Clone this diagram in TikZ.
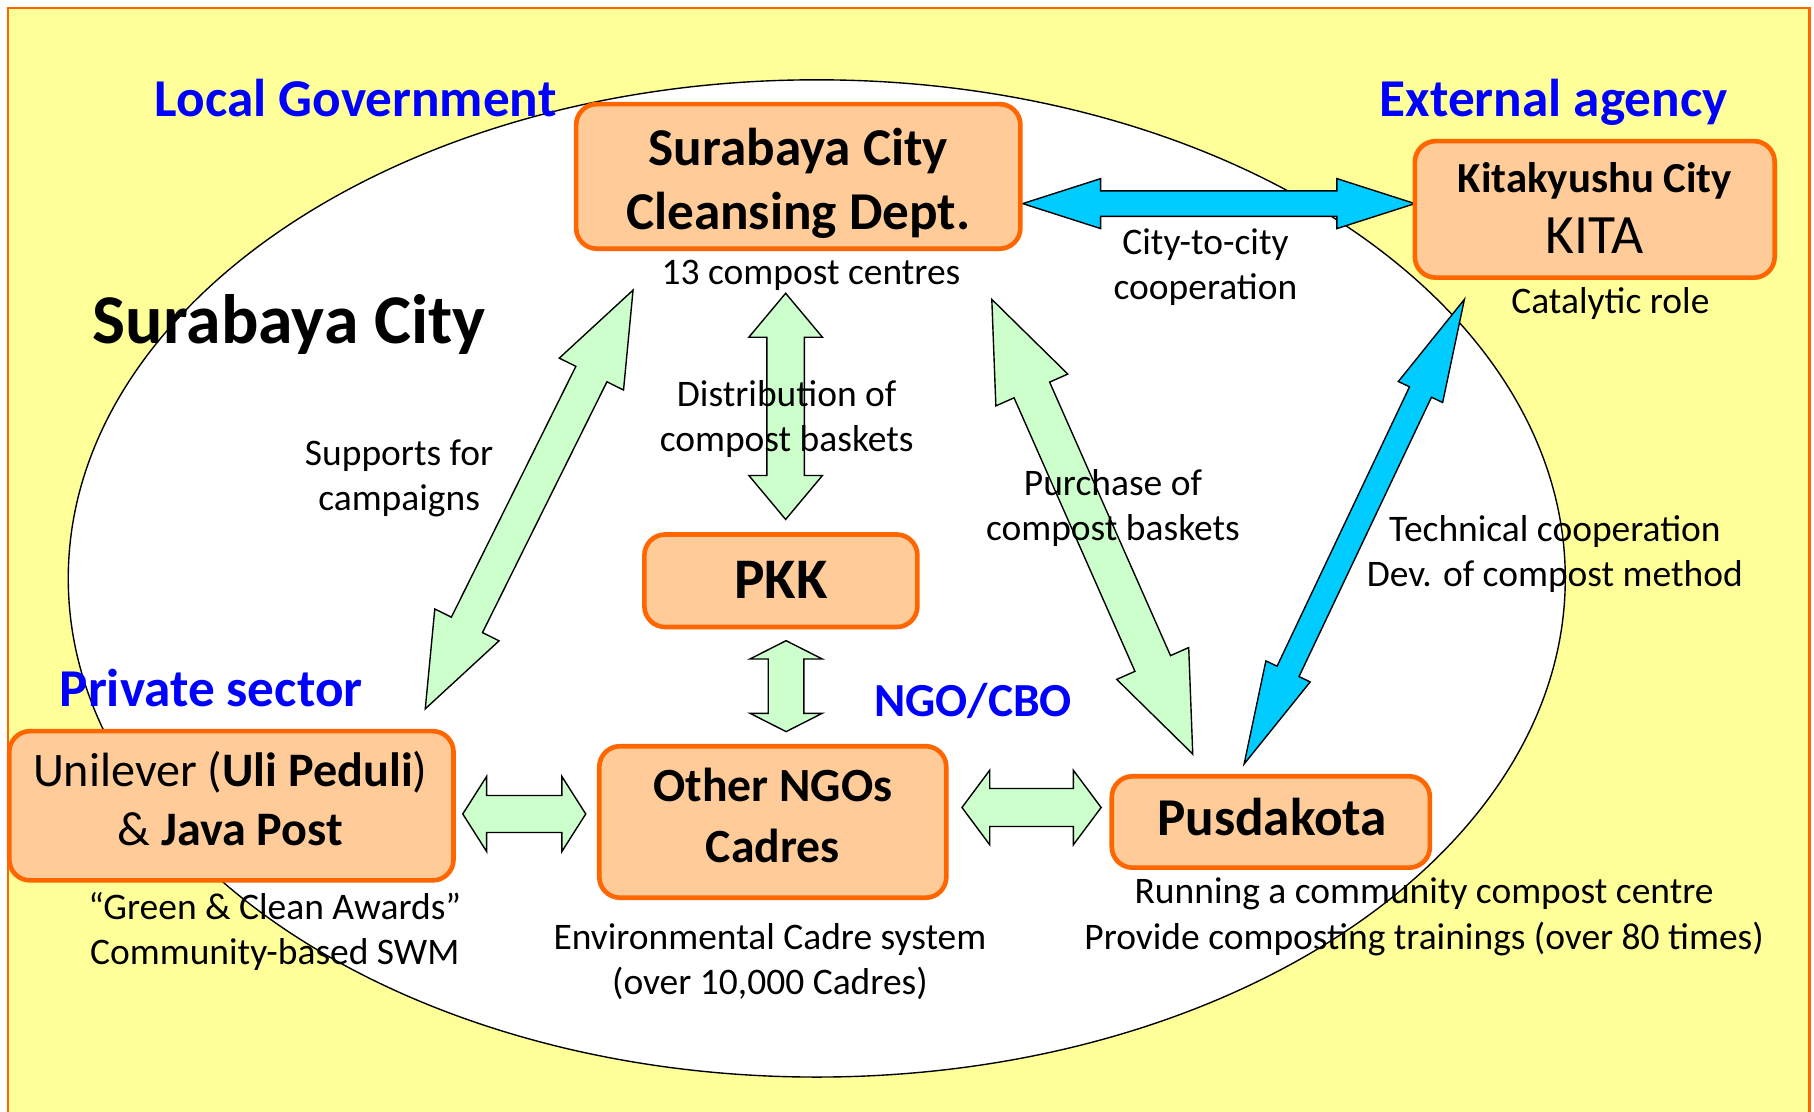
\documentclass[tikz,border=0pt]{standalone}
\usepackage{fontspec}
\setmainfont{Carlito}
\usetikzlibrary{calc}
\definecolor{bgyellow}{HTML}{FFFF99}
\definecolor{frameorange}{HTML}{FF6600}
\definecolor{boxfill}{HTML}{FFCC99}
\definecolor{arrgreen}{HTML}{CCFFCC}
\definecolor{arrblue}{HTML}{00CCFF}
\definecolor{headblue}{HTML}{0000FF}
% #1 style, #2 tip A, #3 tip B, #4 shaft half width, #5 head half width, #6 head length
\newcommand\dblarrow[6]{%
  \coordinate (#2-h) at ($(#2)!#6!(#3)$);
  \coordinate (#3-h) at ($(#3)!#6!(#2)$);
  \path[#1] (#2) -- ($(#2-h)!#5!90:(#3)$) -- ($(#2-h)!#4!90:(#3)$)
    -- ($(#3-h)!#4!-90:(#2)$) -- ($(#3-h)!#5!-90:(#2)$) -- (#3)
    -- ($(#3-h)!#5!90:(#2)$) -- ($(#3-h)!#4!90:(#2)$)
    -- ($(#2-h)!#4!-90:(#3)$) -- ($(#2-h)!#5!-90:(#3)$) -- cycle;}
\tikzset{
  box/.style={draw=frameorange, line width=2pt, fill=boxfill, rounded corners=9pt, inner sep=0pt},
  boxtext/.style={inner sep=0pt, align=center},
  lbl/.style={inner sep=0pt, align=center, font=\fontsize{16.2}{19.5}\selectfont},
  heading/.style={inner sep=0pt, anchor=base, text=headblue, font=\bfseries\fontsize{23}{27}\selectfont},
  garrow/.style={fill=arrgreen, draw=black, line width=0.6pt, line join=miter},
  barrow/.style={fill=arrblue, draw=black, line width=0.6pt, line join=miter},
}
\begin{document}
\begin{tikzpicture}[x=0.5pt,y=-0.5pt]
\useasboundingbox (0,0) rectangle (1568,961);
\clip (0,0) rectangle (1568,961);
\fill[white] (0,0) rectangle (1568,961);
% background frame
\draw[fill=bgyellow, draw=frameorange, line width=1pt] (7,7) rectangle (1564,1000);
% city ellipse
\draw[fill=white, line width=0.6pt] (706,500) ellipse [x radius=323.5pt, y radius=215.5pt];

% arrow tips
\coordinate (ga1) at (547.2,250.8);
\coordinate (gb1) at (367.6,612.7);
\coordinate (ga2) at (679.1,253.5);
\coordinate (gb2) at (679.1,449);
\coordinate (ga3) at (679.5,553.8);
\coordinate (gb3) at (679.5,632.4);
\coordinate (ga4) at (857.3,258.8);
\coordinate (gb4) at (1031,651.8);
\coordinate (ga5) at (400,703.6);
\coordinate (gb5) at (506.3,703.6);
\coordinate (ga6) at (831.5,698);
\coordinate (gb6) at (951.8,698);
\coordinate (ba1) at (884,176);
\coordinate (bb1) at (1223,176);
\coordinate (ba2) at (1265.8,258.8);
\coordinate (bb2) at (1075.4,660.4);

\dblarrow{garrow}{ga1}{gb1}{7.5pt}{15.5pt}{40.5pt}
\dblarrow{garrow}{ga2}{gb2}{8.1pt}{15.9pt}{19pt}
\dblarrow{garrow}{ga3}{gb3}{7.7pt}{15.6pt}{7.9pt}
\dblarrow{garrow}{ga4}{gb4}{8.4pt}{17pt}{42.8pt}
\dblarrow{garrow}{ga5}{gb5}{8pt}{16.2pt}{10.3pt}
\dblarrow{garrow}{ga6}{gb6}{8.2pt}{16.1pt}{12pt}
\dblarrow{barrow}{ba1}{bb1}{5.5pt}{10.8pt}{33.7pt}
\dblarrow{barrow}{ba2}{bb2}{5.25pt}{10.6pt}{44.3pt}

% boxes
\node[box, minimum width=192pt, minimum height=62.5pt] (cleansing) at (690,152.5) {};
\node[box, minimum width=155.5pt, minimum height=59pt] (kita) at (1378.5,181) {};
\node[box, minimum width=118pt, minimum height=40pt] (pkk) at (675,502) {};
\node[box, minimum width=150pt, minimum height=65.5pt] (ngos) at (668,710.5) {};
\node[box, minimum width=137.5pt, minimum height=39.5pt] (pusdakota) at (1098.5,710.5) {};
\node[box, minimum width=192pt, minimum height=64.5pt] (unilever) at (200,696.5) {};

% box texts
\node[boxtext, font=\bfseries\fontsize{23}{27.7}\selectfont] (cleansing-t) at (690,158.3) {Surabaya City\\Cleansing Dept.};
\node[boxtext, font=\fontsize{18.5}{26.25}\selectfont] (kita-t) at (1378.5,180) {\textbf{Kitakyushu City}\\{\fontsize{24}{26.25}\selectfont KITA}};
\node[boxtext, anchor=base, font=\bfseries\fontsize{24.8}{28}\selectfont] (pkk-t) at (675,517) {PKK};
\node[boxtext, font=\bfseries\fontsize{20.6}{26.5}\selectfont] (ngos-t) at (668,704.8) {Other NGOs\\Cadres};
\node[boxtext, anchor=base, font=\bfseries\fontsize{23}{27}\selectfont] (pusdakota-t) at (1099.5,721.8) {Pusdakota};
\node[boxtext, font=\fontsize{20.8}{25.25}\selectfont] (unilever-t) at (199,690.3) {Unilever (\textbf{Uli Peduli})\\\& \textbf{Java Post}};

% headings
\node[heading] (localgov) at (307.5,101) {Local Government};
\node[heading] (external) at (1343,101) {External agency};
\node[heading] (private) at (182.5,611) {Private sector};
\node[heading, font=\bfseries\fontsize{20.5}{24}\selectfont] (ngocbo) at (841,619.5) {NGO/CBO};
\node[inner sep=0pt, anchor=base, font=\bfseries\fontsize{30.2}{35}\selectfont] (city) at (250,297) {Surabaya City};

% labels
\node[lbl, anchor=base] (centres) at (701,246) {13 compost centres};
\node[lbl] (citycoop) at (1042,230.75) {City-to-city\\cooperation};
\node[lbl, anchor=base] (catalytic) at (1392,271) {Catalytic role};
\node[lbl] (supports) at (345,413.25) {Supports for\\campaigns};
\node[lbl] (distribution) at (680,362.25) {Distribution of\\compost baskets};
\node[lbl] (purchase) at (962,439.25) {Purchase of\\compost baskets};
\node[lbl] (technical) at (1344,479.25) {Technical cooperation\\Dev. of compost method};
\node[lbl] (awards) at (237.5,805) {“Green \& Clean Awards”\\Community-based SWM};
\node[lbl] (cadre) at (665.5,831.5) {Environmental Cadre system\\(over 10,000 Cadres)};
\node[lbl] (running) at (1231,792.5) {Running a community compost centre\\Provide composting trainings (over 80 times)};
\end{tikzpicture}
\end{document}
